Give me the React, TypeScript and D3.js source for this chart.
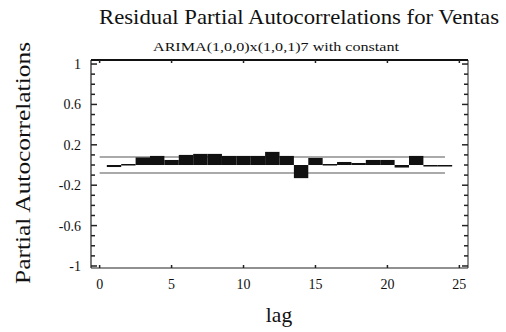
import React from "react";
import * as d3 from "d3";

const lags = [1, 2, 3, 4, 5, 6, 7, 8, 9, 10, 11, 12, 13, 14, 15, 16, 17, 18, 19, 20, 21, 22, 23, 24];
const pacf = [-0.02, 0.01, 0.075, 0.09, 0.05, 0.1, 0.11, 0.11, 0.09, 0.09, 0.09, 0.13, 0.09, -0.13, 0.07, 0.01, 0.03, 0.02, 0.05, 0.05, -0.025, 0.09, 0.0, 0.0];
const limit = 0.08;
const xTicks = [0, 5, 10, 15, 20, 25];
const yTicks = [1, 0.6, 0.2, -0.2, -0.6, -1];
const yMinor = d3.range(-10, 11).map((v) => v / 10);

export default function App() {
  const W = 506, H = 332;
  const left = 91, right = 468, top = 60, bottom = 268;
  const x = d3.scaleLinear().domain([-0.6, 25.6]).range([left, right]);
  const y = d3.scaleLinear().domain([-1.02, 1.04]).range([bottom, top]);
  const bw = x(1) - x(0);
  const font = "'Liberation Serif', 'Times New Roman', serif";
  return (
    <svg width={W} height={H} style={{ position: "absolute", left: 0, top: 0, background: "#fff" }}>
      <rect x={0} y={0} width={W} height={H} fill="#fff" />
      <text x={299} y={24} textAnchor="middle" fontFamily={font} fontSize={22} textLength={400} lengthAdjust="spacingAndGlyphs" fill="#111">
        Residual Partial Autocorrelations for Ventas
      </text>
      <text x={276} y={51} textAnchor="middle" fontFamily={font} fontSize={13.5} textLength={246} lengthAdjust="spacingAndGlyphs" fill="#111">
        ARIMA(1,0,0)x(1,0,1)7 with constant
      </text>
      <text transform={`translate(30,163) rotate(-90)`} textAnchor="middle" fontFamily={font} fontSize={22} textLength={242} lengthAdjust="spacingAndGlyphs" fill="#111">
        Partial Autocorrelations
      </text>
      <text x={279} y={322} textAnchor="middle" fontFamily={font} fontSize={21.5} fill="#111">lag</text>

      {/* confidence limits */}
      <line x1={x(0)} x2={x(24)} y1={y(limit)} y2={y(limit)} stroke="#aaa" strokeWidth={2} />
      <line x1={x(0)} x2={x(24)} y1={y(-limit)} y2={y(-limit)} stroke="#aaa" strokeWidth={2} />

      {/* bars */}
      {lags.map((l, i) => {
        const v = pacf[i];
        const y0 = y(0), y1 = y(v);
        const h = Math.max(Math.abs(y1 - y0), 1.5);
        return (
          <rect key={l} x={x(l) - bw / 2} y={Math.min(y0, y1)} width={bw} height={h} fill="#111" />
        );
      })}

      {/* frame */}
      <line x1={left} x2={left} y1={top} y2={bottom} stroke="#222" strokeWidth={1.2} />
      <line x1={right} x2={right} y1={top} y2={bottom} stroke="#444" strokeWidth={1.2} />
      <line x1={left} x2={right} y1={top} y2={top} stroke="#111" strokeWidth={2} />
      <line x1={left} x2={right} y1={bottom} y2={bottom} stroke="#222" strokeWidth={1.2} />

      {/* y ticks */}
      {yMinor.map((v) => {
        const major = yTicks.some((t) => Math.abs(t - v) < 1e-6);
        const len = major ? 6 : 4;
        return (
          <g key={v}>
            <line x1={left} x2={left + len} y1={y(v)} y2={y(v)} stroke="#222" strokeWidth={1.5} />
            <line x1={right} x2={right - len} y1={y(v)} y2={y(v)} stroke="#222" strokeWidth={1.5} />
          </g>
        );
      })}
      {yTicks.map((v) => (
        <text key={v} x={81} y={y(v) + 5} textAnchor="end" fontFamily={font} fontSize={14} fill="#111">
          {String(v)}
        </text>
      ))}

      {/* x ticks */}
      {xTicks.map((v) => (
        <g key={v}>
          <line x1={x(v)} x2={x(v)} y1={bottom} y2={bottom - 3} stroke="#222" strokeWidth={1.5} />
          <line x1={x(v)} x2={x(v)} y1={top} y2={top + 3} stroke="#222" strokeWidth={1.5} />
          <text x={x(v)} y={289} textAnchor="middle" fontFamily={font} fontSize={14} fill="#111">
            {String(v)}
          </text>
        </g>
      ))}
    </svg>
  );
}
